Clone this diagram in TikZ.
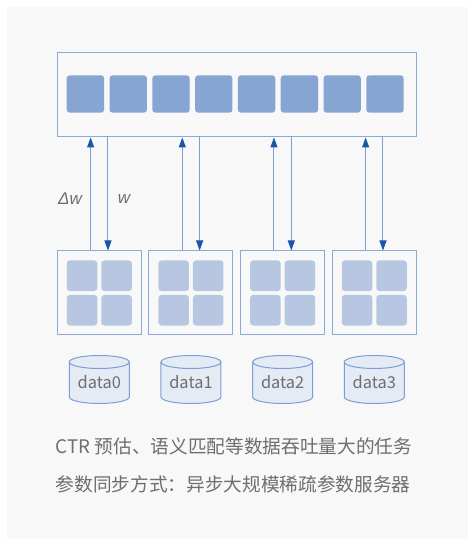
\documentclass[tikz,border=0pt]{standalone}
\usepackage{fontspec}
\setmainfont{Noto Sans CJK SC}
\newfontfamily\latinit{Liberation Sans}
\usetikzlibrary{arrows.meta}
\definecolor{bgc}{HTML}{F8F8F8}
\definecolor{boxline}{HTML}{8AAAD8}
\definecolor{psq}{HTML}{87A5D2}
\definecolor{wsq}{HTML}{B8C7E1}
\definecolor{arrline}{HTML}{7C9FD6}
\definecolor{arrhead}{HTML}{1A54AC}
\definecolor{cylfill}{HTML}{E5EBF5}
\definecolor{cylline}{HTML}{7C9ED4}
\definecolor{txt}{HTML}{6E6E6E}
\begin{document}
\begin{tikzpicture}[x=0.75pt,y=0.75pt,
  psbox/.style={draw=boxline, line width=0.75pt, fill=bgc, inner sep=0, minimum width=269.25pt, minimum height=63pt},
  wbox/.style={draw=boxline, line width=0.75pt, fill=bgc, inner sep=0, minimum width=63pt, minimum height=63pt},
  pcell/.style={fill=psq, draw=none, rounded corners=2.25pt, inner sep=0, minimum width=28pt, minimum height=28pt},
  wcell/.style={fill=wsq, draw=none, rounded corners=2.25pt, inner sep=0, minimum width=22.9pt, minimum height=22.9pt},
  conn/.style={draw=arrline, line width=0.75pt, -{Triangle[width=5.25pt, length=7.5pt, color=arrhead]}},
  lab/.style={text=txt, inner sep=0, font=\latinit\itshape\fontsize{12.75pt}{15pt}\selectfont},
  datatxt/.style={text=txt, inner sep=0, font=\fontsize{12.3pt}{14pt}\selectfont},
  captxt/.style={text=txt, inner sep=0, anchor=west, font=\fontsize{14pt}{16pt}\selectfont}
]
\useasboundingbox (0,0) rectangle (473,544);
\fill[white] (0,0) rectangle (473,544);
\fill[bgc] (7,5) rectangle (468,537);

% parameter server
\node[psbox] (ps) at (236.5,449) {};
\foreach \k in {0,...,7} {
  \pgfmathsetmacro{\cx}{85.4+42.8*\k}
  \node[pcell] (p\k) at (\cx,450) {};
}

% workers
\foreach \i in {0,...,3} {
  \pgfmathsetmacro{\cx}{99.3+91.67*\i}
  \node[wbox] (w\i) at (\cx,251) {};
  \node[wcell] (w\i a) at (\cx-17.25,268.25) {};
  \node[wcell] (w\i b) at (\cx+17.25,268.25) {};
  \node[wcell] (w\i c) at (\cx-17.25,233.75) {};
  \node[wcell] (w\i d) at (\cx+17.25,233.75) {};
  \draw[conn] ([xshift=-6.5pt]w\i.north) -- ([xshift=-6.5pt]w\i.north |- ps.south);
  \draw[conn] ([xshift=6.5pt]w\i.north |- ps.south) -- ([xshift=6.5pt]w\i.north);
  % data cylinder
  \fill[cylfill] (\cx-30,182) -- (\cx-30,147) arc[start angle=180, end angle=360, x radius=22.5pt, y radius=4.875pt] -- (\cx+30,182) arc[start angle=0, end angle=180, x radius=22.5pt, y radius=4.875pt] -- cycle;
  \draw[cylline, line width=0.75pt] (\cx-30,182) -- (\cx-30,147) arc[start angle=180, end angle=360, x radius=22.5pt, y radius=4.875pt] -- (\cx+30,182);
  \draw[cylline, line width=0.75pt] (\cx,182) ellipse[x radius=22.5pt, y radius=4.875pt];
  \node[datatxt] (d\i) at (\cx,162) {data\i};
}

\node[lab] (dw) at (70,345) {Δw};
\node[lab] (wl) at (124,345) {w};

\node[captxt] (t1) at (55.7,98) {CTR 预估、语义匹配等数据吞吐量大的任务};
\node[captxt] (t2) at (55.7,60) {参数同步方式：异步大规模稀疏参数服务器};
\end{tikzpicture}
\end{document}
